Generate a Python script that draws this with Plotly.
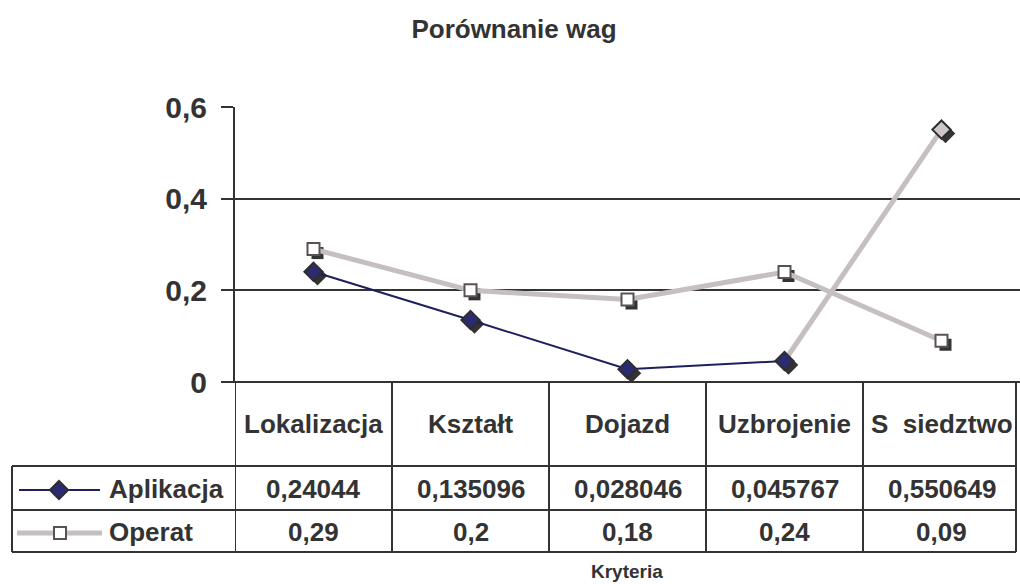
import plotly.graph_objects as go

# ---- data -------------------------------------------------------------
categories = ["Lokalizacja", "Kształt", "Dojazd", "Uzbrojenie", "S\u00a0\u00a0siedztwo"]
series_names = ["Aplikacja", "Operat"]
aplikacja = [0.24044, 0.135096, 0.028046, 0.045767, 0.550649]
operat = [0.29, 0.2, 0.18, 0.24, 0.09]
y_ticks = [0, 0.2, 0.4, 0.6]

# ---- page geometry (pixels) ------------------------------------------
W, H = 1020, 584
PLOT_L, PLOT_R, PLOT_T, PLOT_B = 235, 1020, 107, 382
ROW_Y = [382, 466, 510, 552]          # table row borders
TABLE_L, TABLE_R = 12, 1016
SHADOW = 4                            # marker shadow offset, px

INK = "#333333"
NAVY_LINE = "#1f1f5e"
NAVY_FILL = "#2b2b72"
GRAY_LINE = "#c6bfbf"
FONT = "Liberation Sans"


def fx(px):
    return px / W


def fy(py):
    return 1 - py / H


x_pos = list(range(len(categories)))
x_range = [-0.5, len(categories) - 0.5]
y_range = [0, 0.6]
px_per_x = (PLOT_R - PLOT_L) / (x_range[1] - x_range[0])
px_per_y = (PLOT_B - PLOT_T) / (y_range[1] - y_range[0])
dx = SHADOW / px_per_x
dy = SHADOW / px_per_y

fig = go.Figure()

# shadows (subplot 2: same scale, range shifted so marks land down-right)
fig.add_trace(go.Scatter(
    x=x_pos, y=operat, mode="markers", xaxis="x2", yaxis="y2",
    marker=dict(symbol="square", size=12, color=INK, line=dict(width=0)),
    showlegend=False, hoverinfo="skip"))
fig.add_trace(go.Scatter(
    x=x_pos, y=aplikacja, mode="markers", xaxis="x2", yaxis="y2",
    marker=dict(symbol="diamond", size=15, color=INK, line=dict(width=0)),
    showlegend=False, hoverinfo="skip"))

# lines and front markers (subplot 3)
fig.add_trace(go.Scatter(
    x=x_pos[:4], y=aplikacja[:4], mode="lines", xaxis="x3", yaxis="y3",
    line=dict(color=NAVY_LINE, width=2), showlegend=False))
fig.add_trace(go.Scatter(
    x=x_pos[3:], y=aplikacja[3:], mode="lines", xaxis="x3", yaxis="y3",
    line=dict(color=GRAY_LINE, width=5), showlegend=False))
fig.add_trace(go.Scatter(
    x=x_pos, y=operat, mode="lines+markers", xaxis="x3", yaxis="y3",
    name=series_names[1],
    line=dict(color=GRAY_LINE, width=5),
    marker=dict(symbol="square", size=12, color="white",
                line=dict(color="#5a5252", width=2)),
    showlegend=False))
fig.add_trace(go.Scatter(
    x=x_pos, y=aplikacja, mode="markers", xaxis="x3", yaxis="y3",
    name=series_names[0],
    marker=dict(symbol="diamond", size=14,
                color=[NAVY_FILL] * 4 + ["#cfc7c7"],
                line=dict(color="#2e2e2e", width=2)),
    showlegend=False))

# legend keys inside the data table (subplot 4, pixel-like scale)
key_y = [(ROW_Y[1] + ROW_Y[2]) / 2 + 2, (ROW_Y[2] + ROW_Y[3]) / 2 + 2]
fig.add_trace(go.Scatter(
    x=[19, 100], y=[key_y[0]] * 2, mode="lines", xaxis="x4", yaxis="y4",
    line=dict(color=NAVY_LINE, width=2), showlegend=False, hoverinfo="skip"))
fig.add_trace(go.Scatter(
    x=[59], y=[key_y[0]], mode="markers", xaxis="x4", yaxis="y4",
    marker=dict(symbol="diamond", size=14, color=NAVY_FILL,
                line=dict(color="#2e2e2e", width=2)),
    showlegend=False, hoverinfo="skip"))
fig.add_trace(go.Scatter(
    x=[17, 102], y=[key_y[1]] * 2, mode="lines", xaxis="x4", yaxis="y4",
    line=dict(color=GRAY_LINE, width=5), showlegend=False, hoverinfo="skip"))
fig.add_trace(go.Scatter(
    x=[60], y=[key_y[1]], mode="markers", xaxis="x4", yaxis="y4",
    marker=dict(symbol="square", size=12, color="white",
                line=dict(color="#5a5252", width=2)),
    showlegend=False, hoverinfo="skip"))

x_dom = [fx(PLOT_L), fx(PLOT_R)]
y_dom = [fy(PLOT_B), fy(PLOT_T)]
hidden = dict(visible=False, fixedrange=True, automargin=False)

# ---- data table -------------------------------------------------------
line_style = dict(color=INK, width=2)
shapes = []
# top border (zero line continues left to the tick)
shapes.append(dict(type="line", xref="paper", yref="paper",
                   x0=fx(PLOT_L - 12), x1=1, y0=fy(ROW_Y[0]), y1=fy(ROW_Y[0]),
                   line=line_style))
for yb in ROW_Y[1:]:
    shapes.append(dict(type="line", xref="paper", yref="paper",
                       x0=fx(TABLE_L), x1=fx(TABLE_R), y0=fy(yb), y1=fy(yb),
                       line=line_style))
for i in range(len(categories)):
    shapes.append(dict(type="line", xref="x", yref="paper",
                       x0=i - 0.5, x1=i - 0.5, y0=fy(ROW_Y[0]), y1=fy(ROW_Y[3]),
                       line=line_style))
shapes.append(dict(type="line", xref="paper", yref="paper",
                   x0=fx(TABLE_R), x1=fx(TABLE_R), y0=fy(ROW_Y[0]), y1=fy(ROW_Y[3]),
                   line=line_style))
shapes.append(dict(type="line", xref="paper", yref="paper",
                   x0=fx(TABLE_L), x1=fx(TABLE_L), y0=fy(ROW_Y[1]), y1=fy(ROW_Y[3]),
                   line=line_style))

cell_font = dict(family=FONT, size=26, color=INK, weight="bold")
annotations = []
cat_y = (ROW_Y[0] + ROW_Y[1]) / 2
for i, c in enumerate(categories):
    annotations.append(dict(x=i, y=fy(cat_y), xref="x", yref="paper",
                            text=c, showarrow=False, font=cell_font,
                            xanchor="center", yanchor="middle"))


def fmt(v):
    return str(v).replace(".", ",")


for row, values in enumerate([aplikacja, operat]):
    for i, v in enumerate(values):
        annotations.append(dict(x=i, y=fy(key_y[row] - 1), xref="x", yref="paper",
                                text=fmt(v), showarrow=False, font=cell_font,
                                xanchor="center", yanchor="middle"))
    annotations.append(dict(x=fx(107), y=fy(key_y[row] - 1), xref="paper", yref="paper",
                            text=series_names[row], showarrow=False, font=cell_font,
                            xanchor="left", yanchor="middle"))

annotations.append(dict(x=fx(627), y=fy(571), xref="paper", yref="paper",
                        text="Kryteria", showarrow=False,
                        font=dict(family=FONT, size=19, color=INK, weight="bold"),
                        xanchor="center", yanchor="middle"))

fig.update_layout(
    width=W, height=H,
    margin=dict(l=0, r=0, t=0, b=0, autoexpand=False),
    paper_bgcolor="white", plot_bgcolor="rgba(0,0,0,0)",
    separators=",.",
    showlegend=False,
    title=dict(text="Porównanie wag", x=fx(514), y=fy(29),
               xref="paper", yref="container", automargin=False,
               xanchor="center", yanchor="middle",
               font=dict(family=FONT, size=26, color=INK, weight="bold")),
    xaxis=dict(domain=x_dom, range=x_range, showgrid=False, zeroline=False,
               showticklabels=False, showline=False, ticks="", fixedrange=True,
               automargin=False),
    yaxis=dict(domain=y_dom, range=y_range, tickvals=y_ticks,
               showgrid=True, gridcolor=INK, gridwidth=2,
               zeroline=True, zerolinecolor=INK, zerolinewidth=2,
               showline=True, linecolor=INK, linewidth=2,
               ticks="outside", ticklen=12, tickwidth=2, tickcolor=INK,
               ticklabelstandoff=8, automargin=False,
               tickfont=dict(family=FONT, size=30, color=INK, weight="bold"),
               fixedrange=True),
    xaxis2=dict(domain=x_dom, range=[x_range[0] - dx, x_range[1] - dx],
                anchor="y2", **hidden),
    yaxis2=dict(domain=y_dom, range=[y_range[0] + dy, y_range[1] + dy],
                anchor="x2", **hidden),
    xaxis3=dict(domain=x_dom, range=x_range, anchor="y3", **hidden),
    yaxis3=dict(domain=y_dom, range=y_range, anchor="x3", **hidden),
    xaxis4=dict(domain=[0, fx(PLOT_L)], range=[0, PLOT_L], anchor="y4", **hidden),
    yaxis4=dict(domain=[0, 1], range=[H, 0], anchor="x4", **hidden),
    shapes=shapes,
    annotations=annotations,
)

fig.write_html("out.html")
